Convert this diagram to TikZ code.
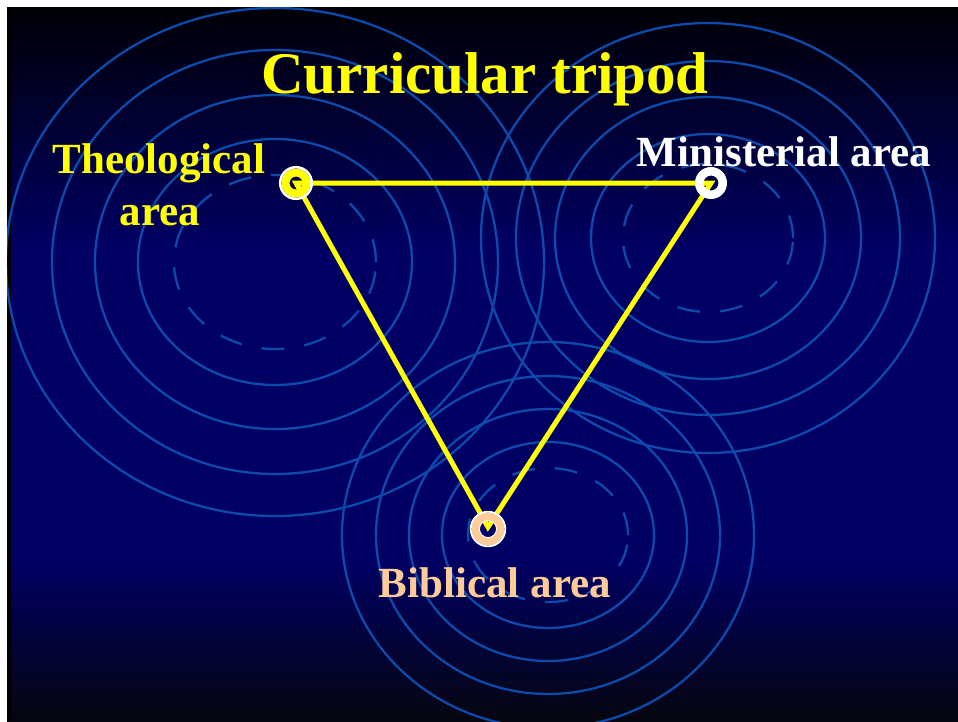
\documentclass[tikz,border=0pt]{standalone}
\usepackage{fontspec}
\setmainfont{Liberation Serif}
\definecolor{navybg}{RGB}{0,0,100}
\definecolor{bgtop}{RGB}{0,0,6}
\definecolor{bgbot}{RGB}{6,6,16}
\definecolor{ringblue}{RGB}{12,74,172}
\definecolor{peach}{RGB}{255,204,153}
\definecolor{tyellow}{RGB}{255,255,0}
\tikzset{
  ringline/.style={draw=ringblue,line width=2.3pt},
  dashring/.style={draw=ringblue,line width=2.3pt,dash pattern=on 23pt off 20pt},
  triline/.style={draw=tyellow,line width=5pt},
  labeltext/.style={anchor=base,font=\fontsize{43}{50}\selectfont\bfseries},
}
\begin{document}
\begin{tikzpicture}[x=1pt,y=-1pt]
\useasboundingbox (0,0) rectangle (958,721);
\fill[white] (0,0) rectangle (958,721);
\begin{scope}
\clip (7,7) rectangle (958,721);
\shade[top color=bgtop,bottom color=navybg] (7,7) rectangle (958,251);
\fill[navybg] (7,250) rectangle (958,561);
\shade[top color=navybg,bottom color=bgbot] (7,560) rectangle (958,721);
\fill[black] (7,7) rectangle (11,721);
% left set (Theological)
\path[dashring] (275,262) ellipse [x radius=101pt,y radius=87pt];
\path[ringline] (275,262) ellipse [x radius=137pt,y radius=123pt];
\path[ringline] (275,262) ellipse [x radius=180pt,y radius=167pt];
\path[ringline] (275,262) ellipse [x radius=223pt,y radius=212pt];
\path[ringline] (275,262) ellipse [x radius=269pt,y radius=254pt];
% right set (Ministerial)
\path[dashring] (708,238) ellipse [x radius=85pt,y radius=74pt];
\path[ringline] (708,238) ellipse [x radius=117pt,y radius=104pt];
\path[ringline] (708,238) ellipse [x radius=153pt,y radius=141pt];
\path[ringline] (708,238) ellipse [x radius=192pt,y radius=177pt];
\path[ringline] (708,238) ellipse [x radius=227pt,y radius=215pt];
% bottom set (Biblical)
\path[dashring] (548,535) ellipse [x radius=80pt,y radius=67pt];
\path[ringline] (548,535) ellipse [x radius=106pt,y radius=93pt];
\path[ringline] (548,535) ellipse [x radius=139pt,y radius=126pt];
\path[ringline] (548,535) ellipse [x radius=172pt,y radius=159pt];
\path[ringline] (548,535) ellipse [x radius=206pt,y radius=193pt];
\end{scope}
% vertices
\coordinate (T) at (296,183);
\coordinate (M) at (711,183);
\coordinate (B) at (488,527);
\coordinate (Bc) at (488,529);
\path[triline] (T) -- (M) -- (B) -- cycle;
% markers
\fill[tyellow,even odd rule] (T) circle[radius=14.5pt] circle[radius=6.5pt];
\draw[white,line width=2.5pt] (T) circle[radius=15.8pt];
\fill[white,even odd rule] (M) circle[radius=16pt] circle[radius=7.5pt];
\fill[peach,even odd rule] (Bc) circle[radius=16.5pt] circle[radius=8.5pt];
\draw[white,line width=1.8pt] (Bc) circle[radius=17.3pt];
\draw[white,line width=0.8pt] (Bc) circle[radius=8.5pt];
% texts
\node[anchor=base,text=tyellow,font=\fontsize{59}{62}\selectfont\bfseries] (title) at (485,93) {Curricular tripod};
\node[labeltext,text=tyellow] (theoA) at (159,173) {Theological};
\node[labeltext,text=tyellow] (theoB) at (160,225) {area};
\node[labeltext,text=white] (mini) at (784,166) {Ministerial area};
\node[labeltext,text=peach] (bibl) at (495,597) {Biblical area};
\end{tikzpicture}
\end{document}
